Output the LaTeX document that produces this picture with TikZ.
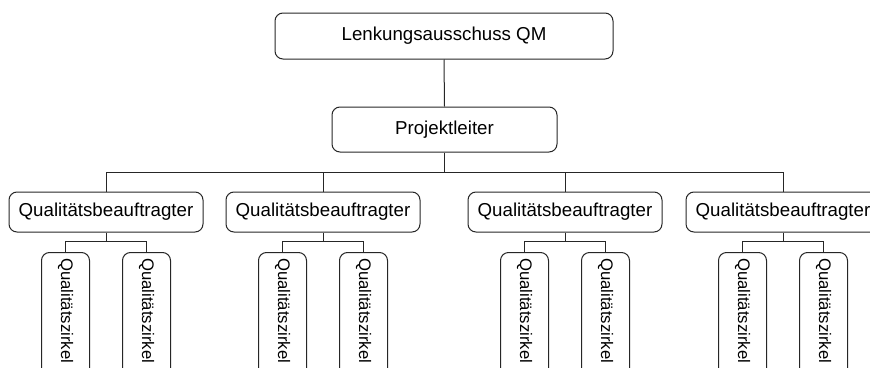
\documentclass[tikz,border=0pt]{standalone}
\usepackage{fontspec}
\setmainfont{Liberation Sans}
\begin{document}
\begin{tikzpicture}[x=1pt,y=-1pt,
  box/.style={draw=black!85,line width=1pt,rounded corners=8pt,inner sep=0pt,
    font=\fontsize{18.7}{22}\selectfont},
  qb/.style={box,minimum width=194pt,minimum height=40pt},
  zk/.style={box,minimum width=48pt,minimum height=140pt},
  zklabel/.style={rotate=-90,anchor=west,inner sep=0pt,font=\fontsize{16.7}{20}\selectfont},
  conn/.style={draw=black!85,line width=1pt}]
\useasboundingbox (0,0) rectangle (870,367);
\clip (0,0) rectangle (870,367);
\node[box,minimum width=338pt,minimum height=46pt] (top) at (444,36) {Lenkungsausschuss QM};
\node[box,minimum width=225pt,minimum height=45pt] (pl) at (444.5,129.5) {Projektleiter};
\coordinate (bus) at (444.5,172);
\coordinate (brk) at (0,241);
\foreach \i/\x in {1/106,2/323,3/565,4/783}{
  \node[qb] (q\i) at (\x,212) {Qualitätsbeauftragter};
  \node[zk,anchor=north] (z\i a) at (\x-40.5,252) {};
  \node[zk,anchor=north] (z\i b) at (\x+40.5,252) {};
  \node[zklabel] (l\i a) at ([yshift=-6pt]z\i a.north) {Qualitätszirkel};
  \node[zklabel] (l\i b) at ([yshift=-6pt]z\i b.north) {Qualitätszirkel};
  \path[conn] (q\i.south) -- (q\i.south |- brk);
  \path[conn] (z\i a.north) -- (z\i a.north |- brk) -- (z\i b.north |- brk) -- (z\i b.north);
  \path[conn] (q\i.north) -- (q\i.north |- bus);
}
\path[conn] (top.south) -- (pl.north);
\path[conn] (pl.south) -- (bus);
\path[conn] (q1.north |- bus) -- (q4.north |- bus);
\end{tikzpicture}
\end{document}
